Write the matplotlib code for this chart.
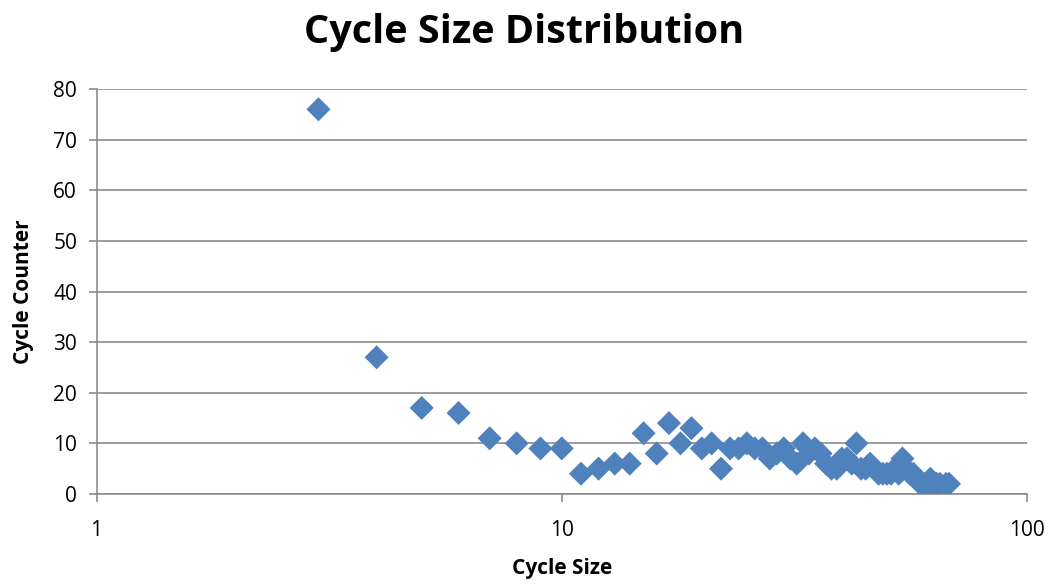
import matplotlib
matplotlib.use("Agg")
import matplotlib.pyplot as plt
from matplotlib.ticker import FixedLocator, NullLocator, FixedFormatter

plt.rcParams['font.family'] = ['Open Sans', 'DejaVu Sans']

cycle_size = [3, 4, 5, 6, 7, 8, 9, 10, 11, 12, 13, 14, 15, 16, 17, 18, 19, 20,
              21, 22, 23, 24, 25, 26, 27, 28, 29, 30, 31, 32, 33, 34, 35, 36,
              37, 38, 39, 40, 41, 42, 43, 44, 45, 46, 47, 48, 49, 50, 51, 52,
              53, 54, 55, 56, 57, 58, 59, 60, 61, 62, 63, 64, 65, 67, 68]
cycle_count = [76, 27, 17, 16, 11, 10, 9, 9, 4, 5, 6, 6, 12, 8, 14, 10, 13, 9,
               10, 5, 9, 9, 10, 9, 9, 7, 8, 9, 7, 6, 10, 8, 9, 8,
               6, 5, 5, 7, 7, 6, 10, 5, 5, 6, 5, 4, 4, 4, 4, 5,
               4, 7, 5, 4, 4, 3, 2, 2, 1, 3, 1, 2, 2, 2, 2]

y_ticks = [0, 10, 20, 30, 40, 50, 60, 70, 80]
x_ticks = [1, 10, 100]
x_tick_labels = ['1', '10', '100']

fig = plt.figure(figsize=(10.56, 5.88), dpi=100)
ax = fig.add_axes([0.0914, 0.1599, 0.8811, 0.6887])

ax.scatter(cycle_size, cycle_count, marker='D', s=150, color='#4F81BD',
           edgecolors='none', zorder=3)

ax.set_xscale('log')
ax.set_xlim(1, 100)
ax.set_ylim(0, 80)
ax.xaxis.set_major_locator(FixedLocator(x_ticks))
ax.xaxis.set_major_formatter(FixedFormatter(x_tick_labels))
ax.xaxis.set_minor_locator(NullLocator())
ax.set_yticks(y_ticks)

grid_c = '#8c8c8c'
ax.yaxis.grid(True, color=grid_c, linewidth=1.2)
ax.xaxis.grid(False)
ax.set_axisbelow(True)
for s in ['top', 'right']:
    ax.spines[s].set_visible(False)
for s in ['left', 'bottom']:
    ax.spines[s].set_color(grid_c)
    ax.spines[s].set_linewidth(1.2)
ax.tick_params(axis='both', colors=grid_c, length=6, width=1.2, labelsize=15,
               labelcolor='black', pad=8)
ax.tick_params(axis='x', pad=13)

fig.text(0.496, 0.945, 'Cycle Size Distribution', fontsize=28.5,
         fontweight='bold', ha='center', va='center')
ax.set_xlabel('Cycle Size', fontsize=15, fontweight='bold', labelpad=12)
ax.set_ylabel('Cycle Counter', fontsize=15, fontweight='bold', labelpad=14)

fig.savefig('out.png', dpi=100)
